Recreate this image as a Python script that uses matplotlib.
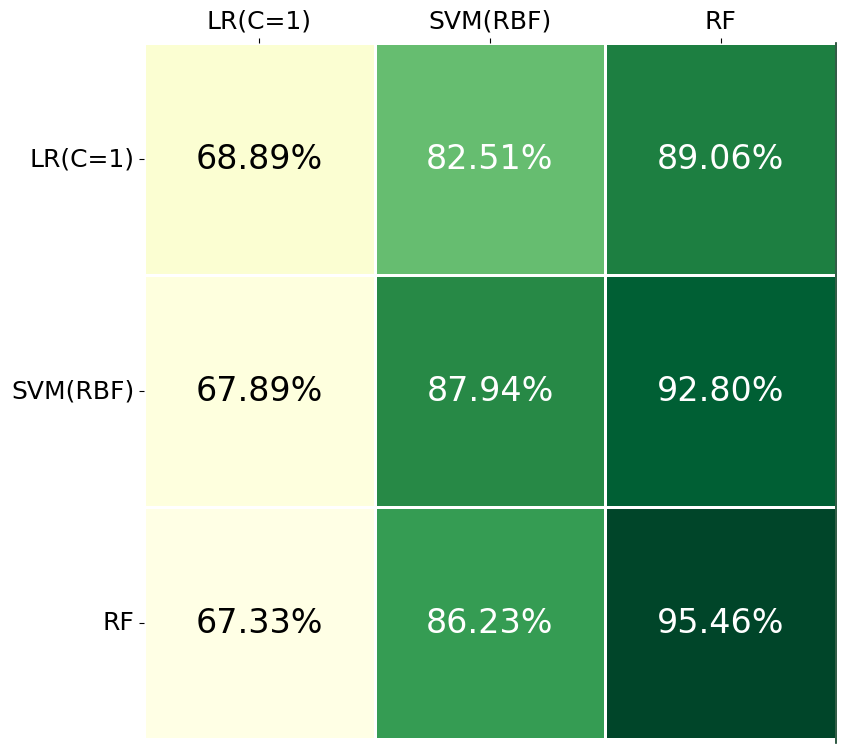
import matplotlib
matplotlib.use('Agg')
import matplotlib.pyplot as plt
import numpy as np
import seaborn as sns

models = ['LR(C=1)', 'SVM(RBF)', 'RF']
acc = np.array([
    [68.89, 82.51, 89.06],
    [67.89, 87.94, 92.80],
    [67.33, 86.23, 95.46],
])

fig = plt.figure(figsize=(8.47, 7.48), dpi=100)
ax = fig.add_axes([0.1700, 0.0120, 0.8170, 0.9300])
labels = np.array([['{:.2f}%'.format(v) for v in row] for row in acc])
sns.heatmap(acc, ax=ax, cmap='YlGn', annot=labels, fmt='', cbar=False,
            linewidths=2, linecolor='white', annot_kws={'fontsize': 24},
            xticklabels=models, yticklabels=models)
# dark text on the pale cells should be pure black like the original
for t in ax.texts:
    if t.get_color() != 'w' and t.get_color() != 'white':
        t.set_color('black')
ax.xaxis.tick_top()
ax.tick_params(axis='both', labelsize=18)
plt.setp(ax.get_yticklabels(), rotation=0)
plt.setp(ax.get_xticklabels(), rotation=0)
# thin edge line seen on the right of the original
ax.axvline(3.0, color='#0b3d23', lw=1.2, ymin=-0.005, ymax=1.0, clip_on=False)

fig.savefig('out.png', dpi=100)
